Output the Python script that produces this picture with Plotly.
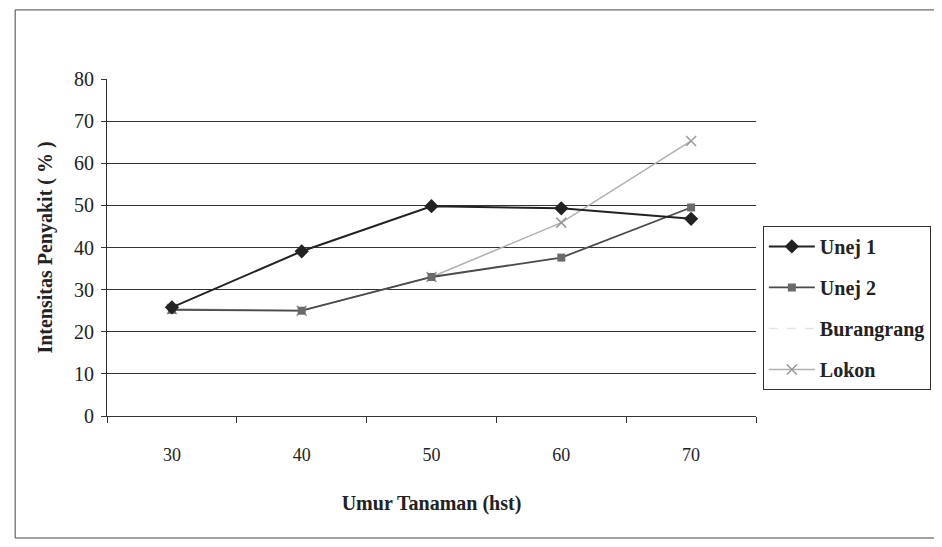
import plotly.graph_objects as go

categories = ["30", "40", "50", "60", "70"]
unej1 = [25.8, 39.1, 49.8, 49.3, 46.8]
unej2 = [25.2, 25.0, 33.0, 37.6, 49.5]
burangrang = [25.2, 25.0, 33.0, 37.6, 49.5]
lokon = [25.4, 25.0, 33.0, 45.9, 65.3]
y_ticks = [0, 10, 20, 30, 40, 50, 60, 70, 80]

font_family = "Liberation Serif, Times New Roman, serif"

fig = go.Figure()
fig.add_trace(go.Scatter(x=categories, y=burangrang, name="Burangrang", mode="lines",
                         line=dict(color="#e4e4e4", width=1.5, dash="dash"),
                         legendgroup="c", legendrank=3))
fig.add_trace(go.Scatter(x=categories, y=lokon, name="Lokon", mode="lines+markers",
                         line=dict(color="#b0b0b0", width=1.5),
                         marker=dict(symbol="x-thin", size=10, line=dict(color="#999999", width=1.5)),
                         legendgroup="d", legendrank=4))
fig.add_trace(go.Scatter(x=categories, y=unej2, name="Unej 2", mode="lines+markers",
                         line=dict(color="#4a4a4a", width=1.8),
                         marker=dict(symbol="square", size=8, color="#6a6a6a"),
                         legendgroup="b", legendrank=2))
fig.add_trace(go.Scatter(x=categories, y=unej1, name="Unej 1", mode="lines+markers",
                         line=dict(color="#222222", width=2),
                         marker=dict(symbol="diamond", size=11, color="#222222"),
                         legendgroup="a", legendrank=1))

fig.update_layout(
    width=934, height=539,
    paper_bgcolor="white", plot_bgcolor="white",
    margin=dict(l=99, r=185, t=71, b=131),
    font=dict(family=font_family, size=18, color="#222222"),
    showlegend=True,
    legend=dict(x=1.009, y=0.564, xanchor="left", yanchor="top",
                bgcolor="white", bordercolor="#333333", borderwidth=1,
                font=dict(family=font_family, size=20, color="#222222", weight="bold"),
                traceorder="grouped", tracegroupgap=12, itemwidth=46),
    xaxis=dict(
        type="category", tickson="boundaries", ticks="outside", ticklen=6,
        tickcolor="#333333", showline=True, linecolor="#333333", linewidth=1,
        showgrid=False, range=[-0.5, 4.5], ticklabelstandoff=22,
        tickfont=dict(family=font_family, size=18),
        title=dict(text="Umur Tanaman (hst)", standoff=32,
                   font=dict(family=font_family, size=20, weight="bold")),
    ),
    yaxis=dict(
        range=[0, 80], tickvals=y_ticks, ticks="outside", ticklen=5,
        tickcolor="#333333", showline=True, linecolor="#333333", linewidth=1,
        showgrid=True, gridcolor="#333333", gridwidth=1, zeroline=False,
        ticklabelstandoff=3,
        tickfont=dict(family=font_family, size=20),
        title=dict(text="Intensitas Penyakit ( % )", standoff=16,
                   font=dict(family=font_family, size=20, weight="bold")),
    ),
    shapes=[dict(type="rect", xref="paper", yref="paper",
                 x0=-0.1415, x1=1.31, y0=-0.362, y1=1.205,
                 line=dict(color="#444444", width=1))],
)

fig.write_html("out.html")
